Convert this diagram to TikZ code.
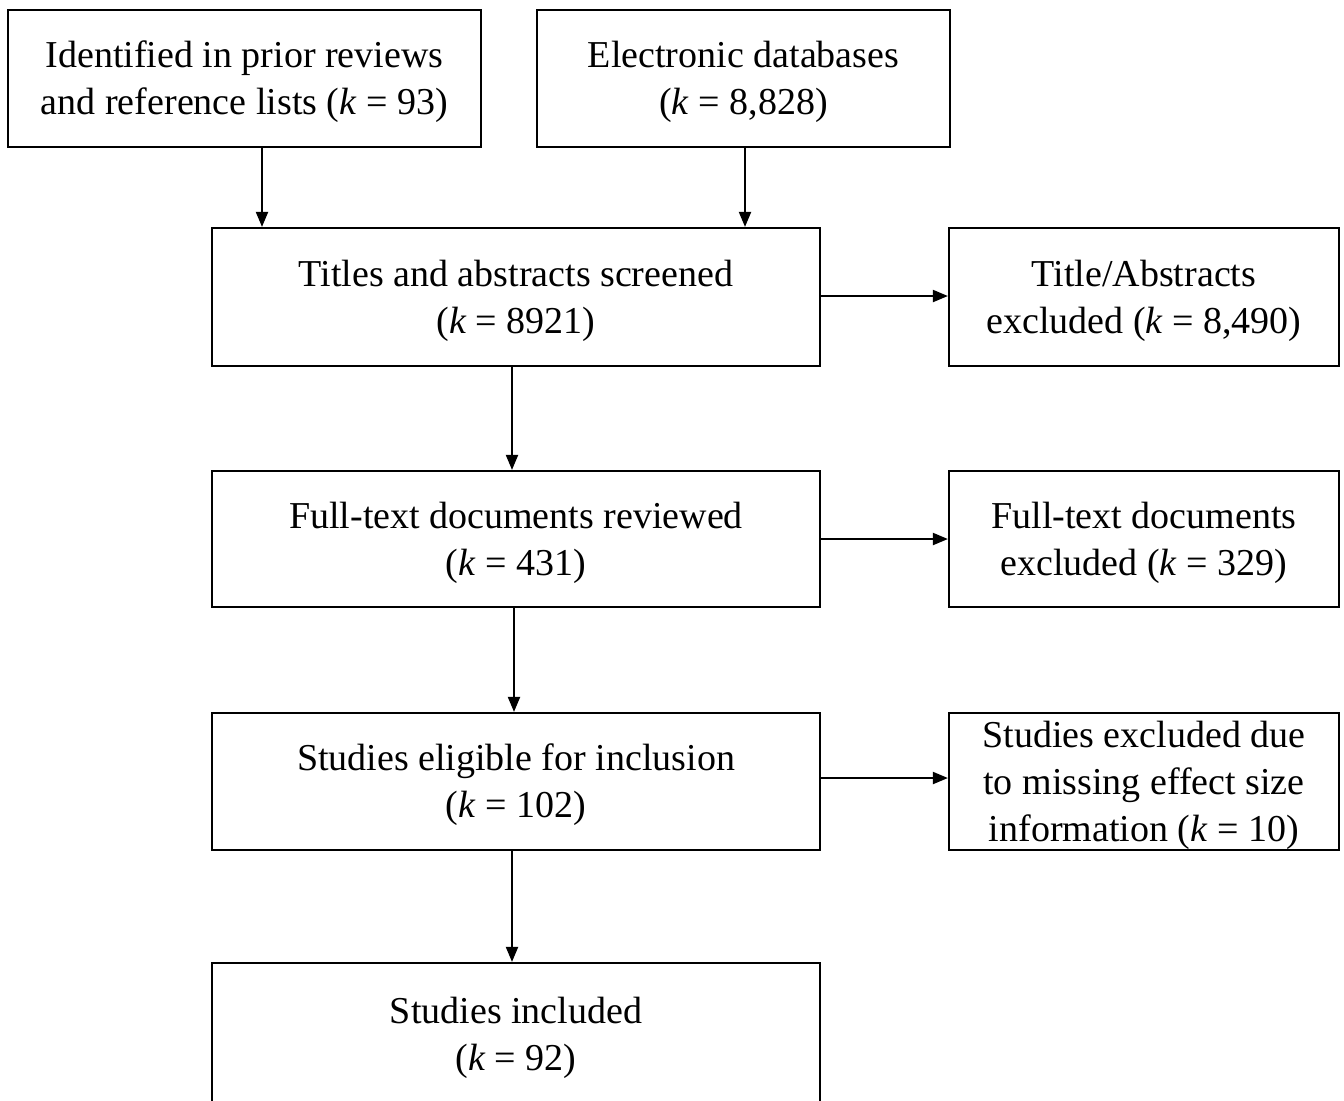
\documentclass[tikz,border=0pt]{standalone}
\usepackage{fontspec}
\setmainfont{Liberation Serif}
\usetikzlibrary{arrows.meta}
\newcommand{\tp}{\rule{0pt}{17pt}}
\begin{document}
\begin{tikzpicture}[x=0.5pt,y=-0.5pt,
  box/.style={draw=black, line width=1.1pt, rectangle, align=center, inner sep=0pt,
    font=\fontsize{19pt}{23.5pt}\selectfont, text=black},
  conn/.style={draw=black, line width=1pt, -{Triangle[length=7.5pt,width=6pt]}}]
\useasboundingbox (0,0) rectangle (1344,1100);
\fill[white] (0,0) rectangle (1344,1100);
\node[box, minimum width=236.5pt, minimum height=68.5pt] (b1) at (244.5,78.5)
  {\tp Identified in prior reviews\\and reference lists (\textit{k} = 93)};
\node[box, minimum width=206.5pt, minimum height=68.5pt] (b2) at (743.5,78.5)
  {\tp Electronic databases\\(\textit{k} = 8,828)};
\node[box, minimum width=304pt, minimum height=69pt] (b3) at (516,297)
  {\tp Titles and abstracts screened\\(\textit{k} = 8921)};
\node[box, minimum width=195pt, minimum height=69pt] (b4) at (1144,297)
  {\tp Title/Abstracts\\excluded (\textit{k} = 8,490)};
\node[box, minimum width=304pt, minimum height=68pt] (b5) at (516,539)
  {\tp Full-text documents reviewed\\(\textit{k} = 431)};
\node[box, minimum width=195pt, minimum height=68pt] (b6) at (1144,539)
  {\tp Full-text documents\\excluded (\textit{k} = 329)};
\node[box, minimum width=304pt, minimum height=68.5pt] (b7) at (516,781.5)
  {\tp Studies eligible for inclusion\\(\textit{k} = 102)};
\node[box, minimum width=195pt, minimum height=68.5pt] (b8) at (1144,781.5)
  {\tp Studies excluded due\\to missing effect size\\information (\textit{k} = 10)};
\node[box, minimum width=304pt, minimum height=72pt] (b9) at (516,1035)
  {\tp Studies included\\(\textit{k} = 92)\rule[-5pt]{0pt}{0pt}};
\coordinate (x1) at (262,0);
\coordinate (x2) at (745,0);
\coordinate (x3) at (512,0);
\coordinate (x4) at (514,0);
\coordinate (y1) at (0,296);
\coordinate (y2) at (0,539);
\coordinate (y3) at (0,778);
\draw[conn] (b1.south -| x1) -- (b3.north -| x1);
\draw[conn] (b2.south -| x2) -- (b3.north -| x2);
\draw[conn] (b3.south -| x3) -- (b5.north -| x3);
\draw[conn] (b5.south -| x4) -- (b7.north -| x4);
\draw[conn] (b7.south -| x3) -- (b9.north -| x3);
\draw[conn] (b3.east |- y1) -- (b4.west |- y1);
\draw[conn] (b5.east |- y2) -- (b6.west |- y2);
\draw[conn] (b7.east |- y3) -- (b8.west |- y3);
\end{tikzpicture}
\end{document}
